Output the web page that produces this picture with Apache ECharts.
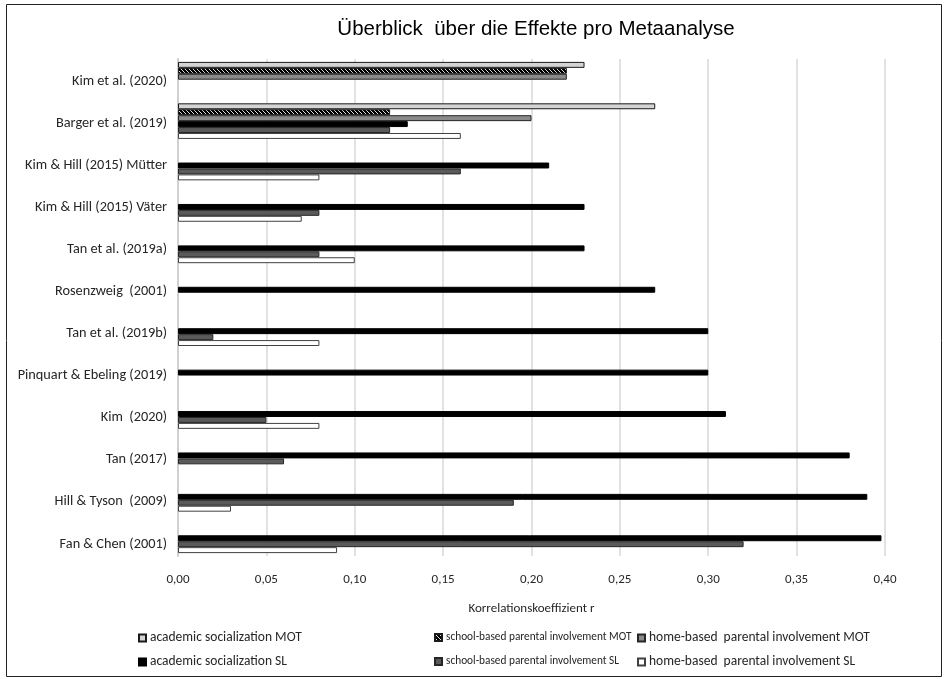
<!DOCTYPE html>
<html>
<head>
<meta charset="utf-8">
<title>Überblick über die Effekte pro Metaanalyse</title>
<script src="https://cdn.jsdelivr.net/npm/echarts@6/dist/echarts.min.js"></script>
<style>
  html, body { margin: 0; padding: 0; background: #fff; }
  #chart { width: 944px; height: 679px; }
</style>
</head>
<body>
<div id="chart"></div>
<script>
// Studies, listed top to bottom
const categories = [
  'Kim et al. (2020)',
  'Barger et al. (2019)',
  'Kim & Hill (2015) Mütter',
  'Kim & Hill (2015) Väter',
  'Tan et al. (2019a)',
  'Rosenzweig  (2001)',
  'Tan et al. (2019b)',
  'Pinquart & Ebeling (2019)',
  'Kim  (2020)',
  'Tan (2017)',
  'Hill & Tyson  (2009)',
  'Fan & Chen (2001)'
];

const seriesNames = [
  'academic socialization MOT',
  'school-based parental involvement MOT',
  'home-based  parental involvement MOT',
  'academic socialization SL',
  'school-based parental involvement SL',
  'home-based  parental involvement SL'
];

// Correlation r per study (null = not reported)
const academicMOT = [0.23, 0.27, null, null, null, null, null, null, null, null, null, null];
const schoolMOT   = [0.22, 0.12, null, null, null, null, null, null, null, null, null, null];
const homeMOT     = [0.22, 0.20, null, null, null, null, null, null, null, null, null, null];
const academicSL  = [null, 0.13, 0.21, 0.23, 0.23, 0.27, 0.30, 0.30, 0.31, 0.38, 0.39, 0.398];
const schoolSL    = [null, 0.12, 0.16, 0.08, 0.08, null, 0.02, null, 0.05, 0.06, 0.19, 0.32];
const homeSL      = [null, 0.16, 0.08, 0.07, 0.10, null, 0.08, null, 0.08, null, 0.03, 0.09];

const xTickLabels = ['0,00', '0,05', '0,10', '0,15', '0,20', '0,25', '0,30', '0,35', '0,40'];

// Hatched fill for the school-based MOT series
function hatchPattern() {
  const c = document.createElement('canvas');
  c.width = 4; c.height = 4;
  const g = c.getContext('2d');
  g.fillStyle = '#000';
  g.fillRect(0, 0, 4, 4);
  g.strokeStyle = '#fff';
  g.lineWidth = 0.9;
  g.beginPath();
  g.moveTo(-1, -1); g.lineTo(5, 5);
  g.moveTo(-1, 3); g.lineTo(1, 5);
  g.moveTo(3, -1); g.lineTo(5, 1);
  g.stroke();
  return { image: c, repeat: 'repeat' };
}

const labelFont = 'Carlito, Lato, "Open Sans", sans-serif';

const styles = [
  { color: '#d4d4d4', borderColor: '#1a1a1a', borderWidth: 1 },
  { color: hatchPattern(), borderColor: '#1a1a1a', borderWidth: 1 },
  { color: '#8a8a8a', borderColor: '#262626', borderWidth: 1 },
  { color: '#000000', borderColor: '#000000', borderWidth: 1 },
  { color: '#5a5a5a', borderColor: '#262626', borderWidth: 1 },
  { color: '#ffffff', borderColor: '#404040', borderWidth: 1 }
];
const values = [academicMOT, schoolMOT, homeMOT, academicSL, schoolSL, homeSL];

const series = seriesNames.map((name, i) => ({
  name: name,
  type: 'bar',
  data: values[i],
  barGap: '0%',
  barCategoryGap: '14%',
  itemStyle: styles[i],
  emphasis: { disabled: true },
  animation: false
}));

// Legend: two rows of three entries
const legendPos = [
  [138, 631], [434, 632], [637, 631],
  [138, 655], [434, 656], [637, 655]
];
const legendFontSize = [13.5, 11.3, 13.5, 13.5, 11.3, 13.5];
const legends = seriesNames.map((name, i) => ({
  data: [name],
  left: legendPos[i][0],
  top: legendPos[i][1],
  icon: 'rect',
  itemWidth: 7,
  itemHeight: 7,
  itemGap: 4,
  selectedMode: false,
  textStyle: { fontFamily: labelFont, fontSize: legendFontSize[i], color: '#262626', padding: [0, 0, 0, -1] },
  padding: 0
}));

const chart = echarts.init(document.getElementById('chart'), null, { renderer: 'canvas' });
chart.setOption({
  backgroundColor: '#ffffff',
  animation: false,
  title: {
    text: 'Überblick  über die Effekte pro Metaanalyse',
    left: 531,
    top: 14,
    textAlign: 'center',
    textStyle: { fontFamily: '"Liberation Sans", Arial, sans-serif', fontSize: 20.5, fontWeight: 'normal', color: '#000' }
  },
  legend: legends,
  grid: [
    { left: 178, right: 59, top: 59, height: 497, containLabel: false },
    // label grid: study names sit on a slightly wider spacing than the bar bands
    { left: 178, right: 59, top: 60, height: 505, containLabel: false }
  ],
  xAxis: [{
    type: 'value',
    min: 0,
    max: 0.40,
    interval: 0.05,
    name: 'Korrelationskoeffizient r',
    nameLocation: 'middle',
    nameGap: 46,
    nameTextStyle: { fontFamily: labelFont, fontSize: 13, color: '#262626' },
    axisLine: { show: false },
    axisTick: { show: false },
    axisLabel: {
      margin: 17,
      fontFamily: labelFont, fontSize: 13, color: '#262626',
      formatter: v => xTickLabels[Math.round(v / 0.05)]
    },
    splitLine: { show: true, lineStyle: { color: '#d9d9d9', width: 1.5 } }
  }, {
    gridIndex: 1,
    type: 'value',
    min: 0,
    max: 0.40,
    show: false
  }],
  yAxis: [{
    type: 'category',
    data: categories,
    inverse: true,
    axisLine: { show: true, lineStyle: { color: '#d0d0d0', width: 2 } },
    axisTick: { show: false },
    axisLabel: { show: false },
    splitLine: { show: false }
  }, {
    gridIndex: 1,
    type: 'category',
    data: categories,
    inverse: true,
    axisLine: { show: false },
    axisTick: { show: false },
    axisLabel: { margin: 11, fontFamily: labelFont, fontSize: 14.3, color: '#262626' },
    splitLine: { show: false }
  }],
  graphic: [{
    type: 'rect',
    shape: { x: 6.5, y: 4.5, width: 935, height: 672 },
    style: { fill: 'none', stroke: '#222', lineWidth: 1 },
    silent: true
  }],
  series: series
});
</script>
</body>
</html>
